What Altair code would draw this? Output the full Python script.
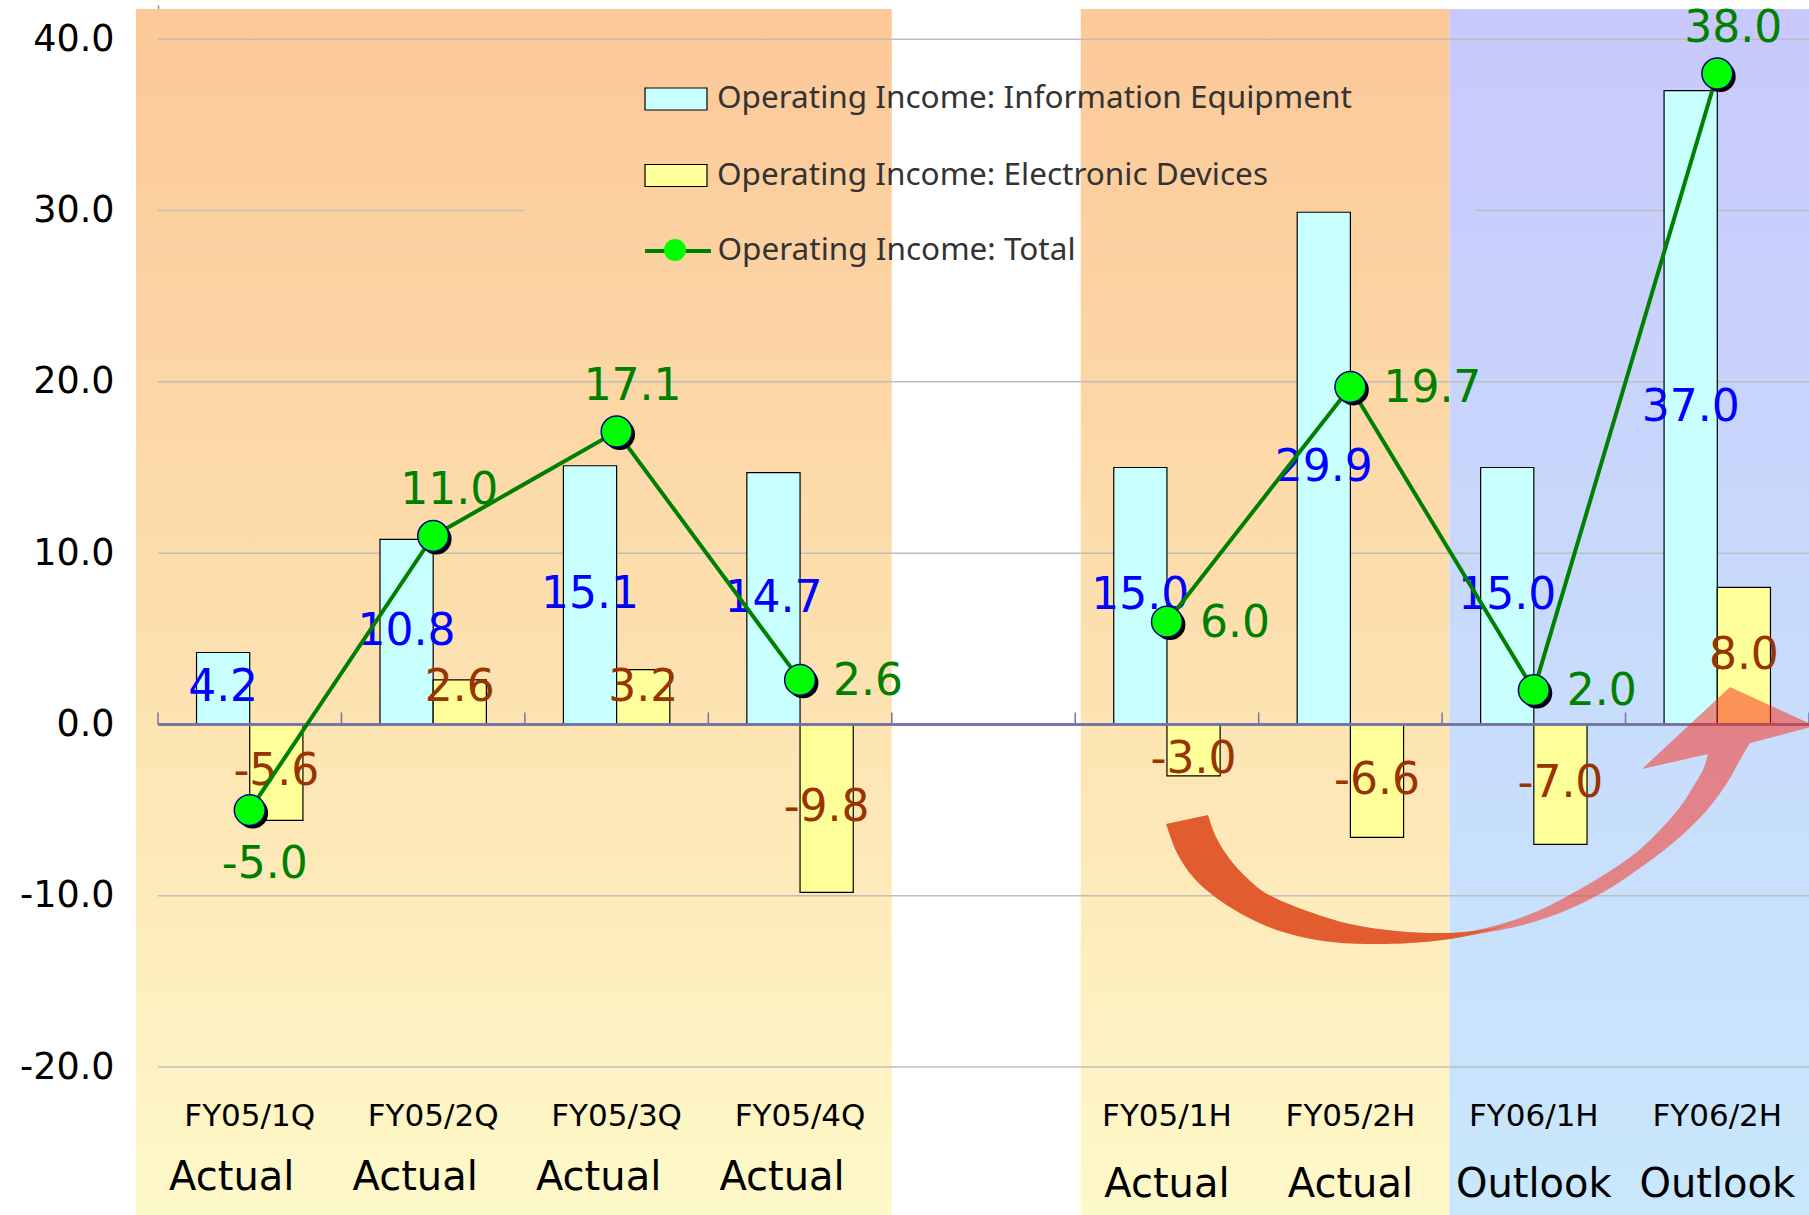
import altair as alt
import pandas as pd

# ---- data -------------------------------------------------------------
periods = ["FY05/1Q", "FY05/2Q", "FY05/3Q", "FY05/4Q", "",
           "FY05/1H", "FY05/2H", "FY06/1H", "FY06/2H"]
status = ["Actual", "Actual", "Actual", "Actual", "",
          "Actual", "Actual", "Outlook", "Outlook"]
info_equipment = [4.2, 10.8, 15.1, 14.7, None, 15.0, 29.9, 15.0, 37.0]
electronic_devices = [-5.6, 2.6, 3.2, -9.8, None, -3.0, -6.6, -7.0, 8.0]
total = [-5.0, 11.0, 17.1, 2.6, None, 6.0, 19.7, 2.0, 38.0]
total_label_side = ["below", "above", "above", "right", None,
                    "right", "right", "right", "above"]
period_group = ["quarter"] * 4 + [None] + ["half"] * 4

INFO = "Operating Income: Information Equipment"
ELEC = "Operating Income: Electronic Devices"
TOTAL = "Operating Income: Total"

# shaded period blocks (x in category units)
band_start = [-0.12, 5.03, 7.04]
band_end = [4.0, 7.04, 9.0]
band_tone = ["warm", "warm", "cool"]

# horizontal grid segments (the 30 line is interrupted behind the legend)
grid_y = [40, 30, 30, 20, 10, -10, -20]
grid_from = [0, 0, 7.18, 0, 0, 0, 0]
grid_to = [9, 2, 9, 9, 9, 9, 9]

boundaries = [0, 1, 2, 3, 4, 5, 6, 7, 8, 9]

# ---- layout -----------------------------------------------------------
W, H = 1651, 1062
PAD_L, PAD_T, PAD_R, PAD_B = 158, 5, 0, 148
X_DOM = [0, 9]
Y_DOM = [-20, 42]
BAR_W = 0.29

# one decimal, plain hyphen for negatives
FMT = "replace(format({v}, '.1f'), '\u2212', '-')"

xs = alt.Scale(domain=X_DOM, nice=False, zero=False)
ys = alt.Scale(domain=Y_DOM, nice=False, zero=False)
yaxis = alt.Axis(values=[-20, -10, 0, 10, 20, 30, 40],
                 labelExpr=FMT.format(v="datum.value"), grid=False,
                 ticks=False, domain=True, domainColor="#8C8C8C", domainWidth=1.5,
                 labelFont="DejaVu Sans", labelFontSize=36.5, labelColor="#000000",
                 labelPadding=44, title=None)


def X(f):
    return alt.X(f, type="quantitative", scale=xs, axis=None)


def Y(f):
    return alt.Y(f, type="quantitative", scale=ys, axis=yaxis)


def XD(v):
    return alt.XDatum(v, type="quantitative", scale=xs, axis=None)


def YD(v):
    return alt.YDatum(v, type="quantitative", scale=ys, axis=yaxis)


# ---- tables -----------------------------------------------------------
bar_rows, tot_rows, cat_rows = [], [], []
for i, p in enumerate(periods):
    if info_equipment[i] is None:
        continue
    c = i + 0.5
    bar_rows.append({"series": INFO, "value": info_equipment[i],
                     "x0": c - BAR_W, "x1": c, "xm": c - BAR_W / 2})
    bar_rows.append({"series": ELEC, "value": electronic_devices[i],
                     "x0": c, "x1": c + BAR_W, "xm": c + BAR_W / 2})
    tot_rows.append({"cx": c, "total": total[i], "seg": period_group[i],
                     "series": TOTAL, "marker": "marker",
                     "side": total_label_side[i]})
    cat_rows.append({"cx": c, "period": p, "status": status[i],
                     "group": period_group[i]})
bars = pd.DataFrame(bar_rows)
tots = pd.DataFrame(tot_rows)
cats = pd.DataFrame(cat_rows)
bands = pd.DataFrame({"b0": band_start, "b1": band_end, "tone": band_tone})
grid = pd.DataFrame({"gy": grid_y, "g0": grid_from, "g1": grid_to})
ticks = pd.DataFrame({"b": boundaries})

# ---- background blocks ------------------------------------------------
BAND_TOP, BAND_BOTTOM = 41.76, -28.64
warm = alt.Gradient(gradient="linear", x1=0, x2=0, y1=0, y2=1, stops=[
    alt.GradientStop(color="#FCC898", offset=0),
    alt.GradientStop(color="#FDE1B0", offset=0.55),
    alt.GradientStop(color="#FEF9C9", offset=1)])
cool = alt.Gradient(gradient="linear", x1=0, x2=0, y1=0, y2=1, stops=[
    alt.GradientStop(color="#C8C8FC", offset=0),
    alt.GradientStop(color="#C8DCFC", offset=0.55),
    alt.GradientStop(color="#C8E7FC", offset=1)])

band_base = alt.Chart(bands).encode(x=X("b0"), x2="b1", y=YD(BAND_TOP),
                                    y2=alt.Y2Datum(BAND_BOTTOM))
warm_bands = band_base.transform_filter("datum.tone == 'warm'").mark_rect(fill=warm)
cool_bands = band_base.transform_filter("datum.tone == 'cool'").mark_rect(fill=cool)

grid_layer = alt.Chart(grid).mark_rule(color="#BEBEBE", strokeWidth=1.5).encode(
    x=X("g0"), x2="g1", y=Y("gy"))

# ---- bars -------------------------------------------------------------
LEGEND_TEXT = dict(labelFont="Noto Sans", labelFontSize=31.5, labelColor="#333333",
                   padding=0, labelLimit=0, title=None, orient="none")
bar_layer = alt.Chart(bars).mark_rect(stroke="#000000", strokeWidth=1.2).encode(
    x=X("x0"), x2="x1", y=Y("value"), y2=alt.Y2Datum(0),
    fill=alt.Fill("series:N",
                  scale=alt.Scale(domain=[INFO, ELEC], range=["#C8FFFF", "#FFFF99"]),
                  legend=alt.Legend(legendX=486, legendY=62, direction="vertical",
                                    symbolType="M-1,-0.355H1V0.355H-1Z",
                                    symbolSize=3844, symbolStrokeColor="#000000",
                                    symbolStrokeWidth=1.2, labelOffset=9,
                                    rowPadding=28.5, **LEGEND_TEXT)))

zero_line = alt.Chart(ticks).mark_rule(color="#7373A6", strokeWidth=1.5).encode(
    x=XD(0), x2=alt.X2Datum(9), y=YD(0))
tick_layer = alt.Chart(ticks).mark_rule(color="#7373A6", strokeWidth=1.5).encode(
    x=X("b"), y=YD(0), y2=alt.Y2Datum(0.7))

# ---- curved arrow from FY05/1H towards FY06/2H --------------------------
ARROW_AT = (5.5, 0.0)
AX = PAD_L + W * (ARROW_AT[0] - X_DOM[0]) / (X_DOM[1] - X_DOM[0])
AY = PAD_T + H * (Y_DOM[1] - ARROW_AT[1]) / (Y_DOM[1] - Y_DOM[0])
UNIT = 100.0


def _u(p):
    return ((p[0] - AX) / UNIT, (p[1] - AY) / UNIT)


def _curve(pts):
    pts = [_u(p) for p in pts]
    out = []
    n = len(pts)
    for i in range(n - 1):
        p0 = pts[i - 1] if i > 0 else pts[i]
        p1, p2 = pts[i], pts[i + 1]
        p3 = pts[i + 2] if i + 2 < n else pts[i + 1]
        c1 = (p1[0] + (p2[0] - p0[0]) / 6, p1[1] + (p2[1] - p0[1]) / 6)
        c2 = (p2[0] - (p3[0] - p1[0]) / 6, p2[1] - (p3[1] - p1[1]) / 6)
        out.append("C%.4f,%.4f %.4f,%.4f %.4f,%.4f" % (c1 + c2 + p2))
    return out


def _line(p):
    return "L%.4f,%.4f" % _u(p)


def _move(p):
    return "M%.4f,%.4f" % _u(p)


tail_outer = [(1166, 824), (1177, 853), (1193, 877), (1215, 897), (1247, 917),
              (1283, 932), (1323, 941), (1367, 944), (1410, 943), (1450, 939),
              (1483, 932), (1512, 924)]
tail_inner = [(1512, 924), (1483, 930), (1443, 933), (1397, 931), (1350, 924),
              (1310, 912), (1269, 895), (1247, 878), (1229, 858), (1216, 837),
              (1208, 815)]
tail_path = " ".join([_move(tail_outer[0])] + _curve(tail_outer) +
                     [_line(tail_inner[0])] + _curve(tail_inner) + ["Z"])

head_outer = [(1395, 944), (1440, 940), (1473, 935), (1523, 925), (1567, 910),
              (1607, 890), (1647, 863), (1680, 837), (1707, 810), (1727, 783),
              (1740, 760), (1750, 743)]
head_tip = [(1815, 726), (1730, 687), (1642, 769), (1708, 754)]
head_inner = [(1708, 754), (1703, 770), (1693, 787), (1680, 807), (1660, 830),
              (1637, 852), (1607, 873), (1573, 893), (1533, 913), (1490, 927),
              (1440, 937), (1395, 944)]
head_path = " ".join([_move(head_outer[0])] + _curve(head_outer) +
                     [_line(p) for p in head_tip] + _curve(head_inner) + ["Z"])

anchor = pd.DataFrame({"ax": [ARROW_AT[0]], "ay": [ARROW_AT[1]]})
arrow_size = (2 * UNIT) ** 2
arrow_head = alt.Chart(anchor).mark_point(
    shape=head_path, size=arrow_size, filled=True, fill="#FA2814",
    fillOpacity=0.5, strokeWidth=0, opacity=1).encode(x=X("ax"), y=Y("ay"))
arrow_tail = alt.Chart(anchor).mark_point(
    shape=tail_path, size=arrow_size, filled=True, fill="#E35C30",
    fillOpacity=1, strokeWidth=0, opacity=1).encode(x=X("ax"), y=Y("ay"))

# ---- bar value labels ---------------------------------------------------
LABEL_FONT = "DejaVu Sans"
LABEL_SIZE = 44
bar_labels = alt.Chart(bars).transform_calculate(
    ly="(datum.value < 0 ? -1 : 1) * max(abs(datum.value) / 2, 2.1)",
    txt=FMT.format(v="datum.value"))
info_labels = bar_labels.transform_filter(alt.datum.series == INFO).mark_text(
    font=LABEL_FONT, fontSize=LABEL_SIZE, color="#0000FF", align="center",
    baseline="middle").encode(x=X("xm"), y=Y("ly"), text="txt:N")
elec_labels = bar_labels.transform_filter(alt.datum.series == ELEC).mark_text(
    font=LABEL_FONT, fontSize=LABEL_SIZE, color="#993300", align="center",
    baseline="middle").encode(x=X("xm"), y=Y("ly"), text="txt:N")

# ---- total line ---------------------------------------------------------
line_layer = alt.Chart(tots).mark_line(strokeWidth=4).encode(
    x=X("cx"), y=Y("total"), detail="seg:N",
    stroke=alt.Stroke("series:N", scale=alt.Scale(domain=[TOTAL], range=["#008000"]),
                      legend=alt.Legend(legendX=485, legendY=211,
                                        symbolType="stroke", symbolSize=4356,
                                        symbolStrokeWidth=4, labelOffset=4.5,
                                        **LEGEND_TEXT)))
shadow_layer = alt.Chart(tots).mark_circle(
    color="#000000", size=950, opacity=1, xOffset=3, yOffset=3).encode(
    x=X("cx"), y=Y("total"))
marker_layer = alt.Chart(tots).mark_point(
    filled=True, fill="#00FF00", stroke="#000080", strokeWidth=1.5, size=950,
    opacity=1).encode(
    x=X("cx"), y=Y("total"),
    shape=alt.Shape("marker:N", scale=alt.Scale(domain=["marker"], range=["circle"]),
                    legend=alt.Legend(title=None, orient="none", legendX=505,
                                      legendY=233, symbolSize=484,
                                      symbolFillColor="#00FF00",
                                      symbolStrokeColor="#000080",
                                      symbolStrokeWidth=1.5, labelExpr="''",
                                      padding=0)))

total_base = alt.Chart(tots).transform_calculate(
    txt=FMT.format(v="datum.total")).encode(x=X("cx"), y=Y("total"), text="txt:N")
tot_above = total_base.transform_filter("datum.side == 'above'").mark_text(
    font=LABEL_FONT, fontSize=LABEL_SIZE, color="#008000", align="center",
    baseline="middle", dx=16, dy=-45)
tot_below = total_base.transform_filter("datum.side == 'below'").mark_text(
    font=LABEL_FONT, fontSize=LABEL_SIZE, color="#008000", align="center",
    baseline="middle", dx=15, dy=55)
tot_right = total_base.transform_filter("datum.side == 'right'").mark_text(
    font=LABEL_FONT, fontSize=LABEL_SIZE, color="#008000", align="left",
    baseline="middle", dx=33, dy=2)

# ---- category captions below the plot ------------------------------------
period_text = alt.Chart(cats).mark_text(
    font="DejaVu Sans", fontSize=31, color="#000000", align="center",
    baseline="middle").encode(x=X("cx"), y=alt.value(1112), text="period:N")
status_q = alt.Chart(cats).transform_filter("datum.group == 'quarter'").mark_text(
    font="DejaVu Sans", fontSize=40, color="#000000", align="center",
    baseline="middle", dx=-18).encode(x=X("cx"), y=alt.value(1173), text="status:N")
status_h = alt.Chart(cats).transform_filter("datum.group == 'half'").mark_text(
    font="DejaVu Sans", fontSize=40, color="#000000", align="center",
    baseline="middle").encode(x=X("cx"), y=alt.value(1180), text="status:N")

chart = alt.layer(
    warm_bands, cool_bands, grid_layer, bar_layer, zero_line, tick_layer,
    arrow_head, arrow_tail, info_labels, elec_labels, line_layer, shadow_layer,
    marker_layer, tot_above, tot_below, tot_right, period_text, status_q, status_h
).properties(
    width=W, height=H,
    padding={"left": PAD_L, "top": PAD_T, "right": PAD_R, "bottom": PAD_B},
    autosize=alt.AutoSizeParams(type="none"),
    background="#FFFFFF",
).configure_view(stroke=None)

chart.save("out.html", embed_options={"renderer": "svg", "actions": False})
